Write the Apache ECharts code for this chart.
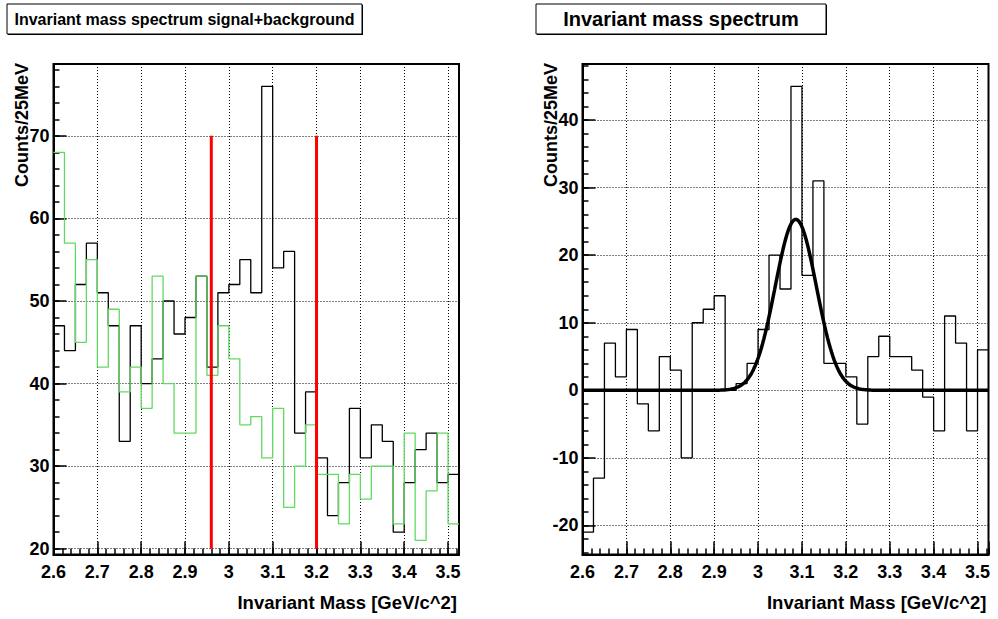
<!DOCTYPE html>
<html>
<head>
<meta charset="utf-8">
<script src="https://cdn.jsdelivr.net/npm/echarts@6/dist/echarts.min.js"></script>
<style>
  html, body { margin: 0; padding: 0; background: #ffffff; }
  #chart { width: 998px; height: 619px; }
</style>
</head>
<body>
<div id="chart"></div>
<script>
// Bin edges of the invariant-mass histograms (25 MeV bins, GeV/c^2)
const binEdges = [
  2.600, 2.625, 2.650, 2.675, 2.700, 2.725, 2.750, 2.775, 2.800, 2.825,
  2.850, 2.875, 2.900, 2.925, 2.950, 2.975, 3.000, 3.025, 3.050, 3.075,
  3.100, 3.125, 3.150, 3.175, 3.200, 3.225, 3.250, 3.275, 3.300, 3.325,
  3.350, 3.375, 3.400, 3.425, 3.450, 3.475, 3.500, 3.525
];

// Counts per bin: signal + background (black)
const signalPlusBackground = [
  47, 44, 52, 57, 51, 47, 33, 47, 40, 43,
  50, 46, 48, 53, 42, 51, 52, 55, 51, 76,
  54, 56, 34, 39, 31, 24, 28, 37, 31, 35,
  33, 22, 28, 32, 34, 28, 29
];

// Counts per bin: background estimate (green)
const background = [
  68, 57, 45, 55, 42, 49, 39, 42, 37, 53,
  40, 34, 34, 53, 41, 47, 43, 35, 36, 31,
  37, 25, 30, 35, 29, 29, 23, 29, 26, 30,
  30, 23, 34, 21, 27, 34, 23
];

// Background-subtracted spectrum
const signalOnly = [
  -21, -13, 7, 2, 9, -2, -6, 5, 3, -10,
  10, 12, 14, 0, 1, 4, 9, 20, 15, 45,
  17, 31, 4, 4, 2, -5, 5, 8, 5, 5,
  3, -1, -6, 11, 7, -6, 6
];

// Mass window cuts (red lines) and their vertical extent
const windowCuts = [2.96, 3.2];
const windowCutSpan = [20, 70];

// Gaussian fit to the subtracted peak
const fitAmplitude = 25.3;
const fitMean = 3.086;
const fitSigma = 0.047;

// Axis ranges and tick steps
const massRange = [2.6, 3.525];
const massMajorStep = 0.1;
const massMinorStep = 0.02;
const leftCountRange = [19.3, 78.7];
const rightCountRange = [-24.3, 48.3];
const countMajorStep = 10;
const countMinorStep = 2;

const FONT = "'Liberation Sans', Arial, Helvetica, sans-serif";

function histSteps(values) {
  return binEdges.map((x, i) => [x, values[Math.min(i, values.length - 1)]]);
}

function fitCurve() {
  const pts = [];
  const n = 300;
  for (let k = 0; k <= n; k++) {
    const x = massRange[0] + (massRange[1] - massRange[0]) * k / n;
    const d = (x - fitMean) / fitSigma;
    pts.push([x, fitAmplitude * Math.exp(-0.5 * d * d)]);
  }
  return pts;
}

const isMultiple = (v, step) => Math.abs(v / step - Math.round(v / step)) < 1e-6;

const grids = [
  { left: 53.5, top: 64, width: 405.5, height: 490.5 },
  { left: 582.5, top: 64, width: 406, height: 490.5 }
];

function xAxesFor(gridIndex) {
  return [
    {
      type: 'value', gridIndex, position: 'bottom',
      min: massRange[0], max: massRange[1], interval: massMajorStep,
      axisLine: { show: true, onZero: false, lineStyle: { color: '#000', width: 2 } },
      axisTick: { show: true, inside: true, length: 13, lineStyle: { color: '#000', width: 1.5 } },
      axisLabel: {
        show: true, margin: 8, color: '#000', fontFamily: FONT, fontWeight: 'bold', fontSize: 18,
        formatter: v => isMultiple(v, massMajorStep) ? String(+v.toFixed(1)) : ''
      },
      splitLine: { show: true, lineStyle: { color: '#000', width: 1, type: [1, 2] } }
    },
    {
      type: 'value', gridIndex, position: 'bottom',
      min: massRange[0], max: massRange[1], interval: massMinorStep,
      axisLine: { show: false, onZero: false },
      axisTick: { show: true, inside: true, length: 6, lineStyle: { color: '#000', width: 1.5 } },
      axisLabel: { show: false },
      splitLine: { show: false }
    }
  ];
}

function yAxesFor(gridIndex, range, splits) {
  return [
    {
      type: 'value', gridIndex, position: 'left',
      min: range[0], max: range[1], splitNumber: splits,
      minInterval: countMajorStep, maxInterval: countMajorStep,
      axisLine: { show: true, onZero: false, lineStyle: { color: '#000', width: 2 } },
      axisTick: { show: true, inside: true, length: 13, lineStyle: { color: '#000', width: 1.5 } },
      axisLabel: {
        show: true, margin: 4, color: '#000', fontFamily: FONT, fontWeight: 'bold', fontSize: 18,
        formatter: v => isMultiple(v, countMajorStep) ? String(Math.round(v)) : ''
      },
      splitLine: { show: true, lineStyle: { color: '#000', width: 1, type: [1, 2] } }
    },
    {
      type: 'value', gridIndex, position: 'left',
      min: range[0], max: range[1], splitNumber: splits * 5,
      minInterval: countMinorStep, maxInterval: countMinorStep,
      axisLine: { show: false, onZero: false },
      axisTick: { show: true, inside: true, length: 6, lineStyle: { color: '#000', width: 1.5 } },
      axisLabel: { show: false },
      splitLine: { show: false }
    }
  ];
}

function titleBox(x, y, w, h, text, size) {
  return [
    { type: 'rect', shape: { x: x + 1, y: y + 1, width: w, height: h },
      style: { fill: '#000' }, silent: true },
    { type: 'rect', shape: { x: x, y: y, width: w, height: h },
      style: { fill: '#fff', stroke: '#000', lineWidth: 1 }, silent: true },
    { type: 'text', x: x + w / 2, y: y + h / 2,
      style: { text, fill: '#000', font: `bold ${size}px ${FONT}`, textAlign: 'center', textVerticalAlign: 'middle' },
      silent: true }
  ];
}

function axisTitles(g) {
  return [
    { type: 'text', x: g.left + g.width - 2, y: 602,
      style: { text: 'Invariant Mass [GeV/c^2]', fill: '#000', font: `bold 18.5px ${FONT}`,
               textAlign: 'right', textVerticalAlign: 'middle' }, silent: true },
    { type: 'text', x: g.left - 31.5, y: g.top - 1, rotation: Math.PI / 2,
      style: { text: 'Counts/25MeV', fill: '#000', font: `bold 18px ${FONT}`,
               textAlign: 'right', textVerticalAlign: 'middle' }, silent: true }
  ];
}

const chart = echarts.init(document.getElementById('chart'), null, { renderer: 'svg' });

chart.setOption({
  animation: false,
  backgroundColor: '#ffffff',
  grid: grids.map(g => Object.assign({ show: true, borderColor: '#000', borderWidth: 2, backgroundColor: 'transparent' }, g)),
  xAxis: [...xAxesFor(0), ...xAxesFor(1)],
  yAxis: [...yAxesFor(0, leftCountRange, 5), ...yAxesFor(1, rightCountRange, 7)],
  series: [
    {
      name: 'signal+background', type: 'line', xAxisIndex: 0, yAxisIndex: 0,
      step: 'end', showSymbol: false, data: histSteps(signalPlusBackground),
      lineStyle: { color: '#000000', width: 1.3 }, z: 3
    },
    {
      name: 'background', type: 'line', xAxisIndex: 0, yAxisIndex: 0,
      step: 'end', showSymbol: false, data: histSteps(background),
      lineStyle: { color: '#62da62', width: 1.3 }, z: 4
    },
    ...windowCuts.map(c => ({
      name: 'cut ' + c, type: 'line', xAxisIndex: 0, yAxisIndex: 0,
      showSymbol: false, data: [[c, windowCutSpan[0]], [c, windowCutSpan[1]]],
      lineStyle: { color: '#ff0000', width: 3 }, z: 5
    })),
    {
      name: 'signal', type: 'line', xAxisIndex: 2, yAxisIndex: 2,
      step: 'end', showSymbol: false, data: histSteps(signalOnly),
      lineStyle: { color: '#000000', width: 1.3 }, z: 3
    },
    {
      name: 'gaussian fit', type: 'line', xAxisIndex: 2, yAxisIndex: 2,
      showSymbol: false, data: fitCurve(),
      lineStyle: { color: '#000000', width: 3.5 }, z: 4
    }
  ],
  graphic: [
    ...titleBox(7, 4, 355, 30, 'Invariant mass spectrum signal+background', 16),
    ...titleBox(536, 4, 290, 30, 'Invariant mass spectrum', 20),
    ...axisTitles(grids[0]),
    ...axisTitles(grids[1])
  ]
});
</script>
</body>
</html>
